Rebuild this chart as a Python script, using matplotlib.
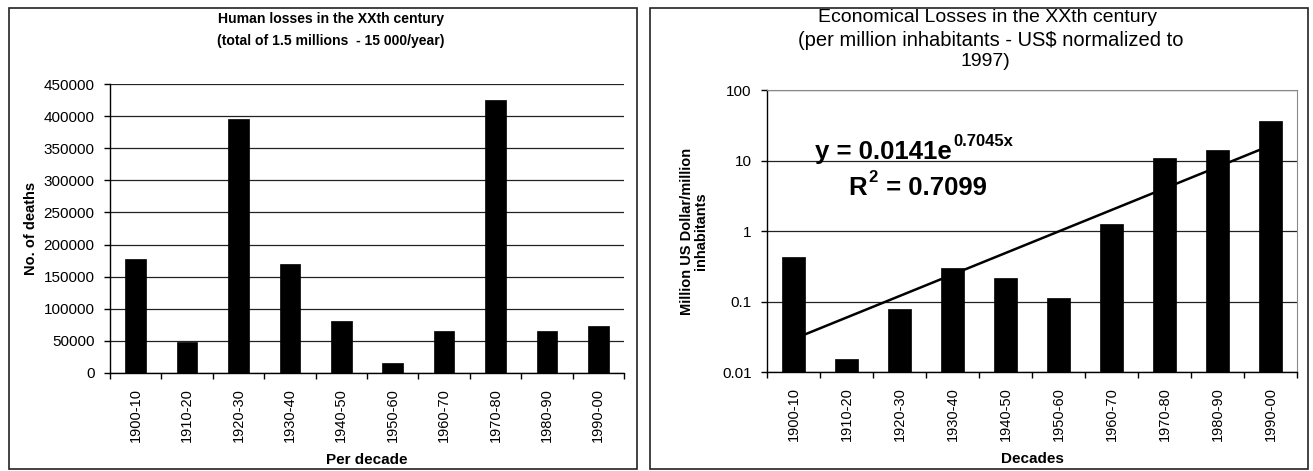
import numpy as np
import matplotlib
matplotlib.use("Agg")
import matplotlib.pyplot as plt
from matplotlib.patches import Rectangle
from matplotlib.ticker import FixedLocator, NullLocator

# ---- data ----
decades = ["1900-10", "1910-20", "1920-30", "1930-40", "1940-50",
           "1950-60", "1960-70", "1970-80", "1980-90", "1990-00"]
deaths = [178000, 49000, 396000, 170000, 81000, 16000, 65500, 425500, 65500, 73000]
econ_losses = [0.43, 0.0153, 0.078, 0.295, 0.215, 0.113, 1.27, 10.8, 13.9, 36.0]
left_yticks = [0, 50000, 100000, 150000, 200000, 250000, 300000, 350000, 400000, 450000]
right_yticks = [0.01, 0.1, 1, 10, 100]
right_yticklabels = ["0.01", "0.1", "1", "10", "100"]

W, H = 1313, 471
fig = plt.figure(figsize=(W / 100, H / 100), dpi=100)
fig.patch.set_facecolor("white")

REG = ["Liberation Sans", "DejaVu Sans"]

def fx(px):
    return px / W

def fy(py):
    return 1 - py / H

# panel borders
for (x0, y0, x1, y1) in [(9, 8, 637, 469), (650, 8, 1308, 469)]:
    fig.add_artist(Rectangle((fx(x0), fy(y1)), fx(x1 - x0), (y1 - y0) / H,
                             transform=fig.transFigure, fill=False,
                             edgecolor="#222222", linewidth=1.2))

x = np.arange(len(decades))

# ---------------- left chart ----------------
ax1 = fig.add_axes([fx(110), fy(373), fx(624 - 110), (373 - 84) / H])
ax1.bar(x, deaths, width=0.4, color="black", edgecolor="black", linewidth=0.5, zorder=3)
ax1.set_xlim(-0.5, len(decades) - 0.5)
ax1.set_ylim(0, 450000)
ax1.set_yticks(left_yticks)
ax1.set_yticklabels([str(v) for v in left_yticks], family=REG, fontsize=11)
ax1.yaxis.grid(True, color="#222222", linewidth=0.9, zorder=0)
ax1.xaxis.set_major_locator(FixedLocator(np.arange(len(decades) + 1) - 0.5))
ax1.xaxis.set_minor_locator(FixedLocator(x))
ax1.set_xticklabels([], minor=False)
ax1.set_xticklabels(decades, minor=True, rotation=90, family=REG, fontsize=10.5)
ax1.tick_params(axis="x", which="major", length=4, width=1, direction="out")
ax1.tick_params(axis="x", which="minor", length=0, pad=11)
ax1.tick_params(axis="y", length=4, width=1, direction="out", pad=7)
for s in ["top", "right"]:
    ax1.spines[s].set_visible(False)
for s in ["left", "bottom"]:
    ax1.spines[s].set_linewidth(1.0)
ax1.set_ylabel("No. of deaths", family=REG, fontweight="bold", fontsize=10.5, labelpad=4)
ax1.set_xlabel("Per decade", family=REG, fontweight="bold", fontsize=11, labelpad=8)
fig.text(fx(331), fy(19), "Human losses in the XXth century", ha="center", va="center",
         family=REG, fontweight="bold", fontsize=10.1)
fig.text(fx(331), fy(41), "(total of 1.5 millions  - 15 000/year)", ha="center", va="center",
         family=REG, fontweight="bold", fontsize=10.1)

# ---------------- right chart ----------------
ax2 = fig.add_axes([fx(767), fy(372), fx(1297 - 767), (372 - 90) / H])
ax2.bar(x, econ_losses, width=0.42, color="black", edgecolor="black", linewidth=0.5, zorder=3)
ax2.set_yscale("log")
ax2.set_ylim(0.01, 100)
ax2.set_xlim(-0.5, len(decades) - 0.5)
ax2.yaxis.set_major_locator(FixedLocator(right_yticks))
ax2.yaxis.set_minor_locator(NullLocator())
ax2.set_yticklabels(right_yticklabels, family=REG, fontsize=11)
ax2.yaxis.grid(True, color="#222222", linewidth=0.9, zorder=0)
ax2.xaxis.set_major_locator(FixedLocator(np.arange(len(decades) + 1) - 0.5))
ax2.xaxis.set_minor_locator(FixedLocator(x))
ax2.set_xticklabels([], minor=False)
ax2.set_xticklabels(decades, minor=True, rotation=90, family=REG, fontsize=10.5)
ax2.tick_params(axis="x", which="major", length=4, width=1, direction="out")
ax2.tick_params(axis="x", which="minor", length=0, pad=11)
ax2.tick_params(axis="y", length=4, width=1, direction="out", pad=7)
ax2.spines["top"].set_color("#8a8a8a")
ax2.spines["right"].set_color("#8a8a8a")
for s in ["left", "bottom"]:
    ax2.spines[s].set_linewidth(1.0)

# exponential trend line fitted from the bars
xn = x + 1
b, lna = np.polyfit(xn, np.log(econ_losses), 1)
trend = np.exp(lna) * np.exp(b * xn)
ax2.plot(x, trend, color="black", linewidth=1.8, zorder=4)

ax2.set_ylabel("Million US Dollar/million\ninhabitants", family=REG, fontweight="bold",
               fontsize=10.5, labelpad=10, linespacing=1.0)
ax2.set_xlabel("Decades", family=REG, fontweight="bold", fontsize=11, labelpad=8)
fig.text(fx(988), fy(17), "Economical Losses in the XXth century", ha="center", va="center",
         family=REG, fontsize=14)
fig.text(fx(991), fy(40), "(per million inhabitants - US$ normalized to", ha="center", va="center",
         family=REG, fontsize=14.5)
fig.text(fx(985), fy(62), "1997)", ha="center", va="center", family=REG, fontsize=14)

eq = fig.text(fx(815), fy(152), "y = 0.0141e", ha="left", va="center",
              family=REG, fontweight="bold", fontsize=18.5)
fig.text(0, 0, "0.7045x", transform=eq.get_transform(), family=REG, fontweight="bold",
         fontsize=12, ha="left", va="bottom").set_visible(False)
ax2.annotate("0.7045x", xy=(1, 0.62), xycoords=eq, xytext=(1, 0), textcoords="offset points",
             ha="left", va="bottom", family=REG, fontweight="bold", fontsize=12,
             annotation_clip=False)
r2 = fig.text(fx(848), fy(188), "R", ha="left", va="center",
              family=REG, fontweight="bold", fontsize=18.5)
ax2.annotate("2", xy=(1, 0.62), xycoords=r2, xytext=(1, 0), textcoords="offset points",
             ha="left", va="bottom", family=REG, fontweight="bold", fontsize=12,
             annotation_clip=False)
ax2.annotate(" = 0.7099", xy=(1, 0.5), xycoords=r2, xytext=(9, 0), textcoords="offset points",
             ha="left", va="center", family=REG, fontweight="bold", fontsize=18.5,
             annotation_clip=False)

fig.savefig("out.png", dpi=100, facecolor="white")
